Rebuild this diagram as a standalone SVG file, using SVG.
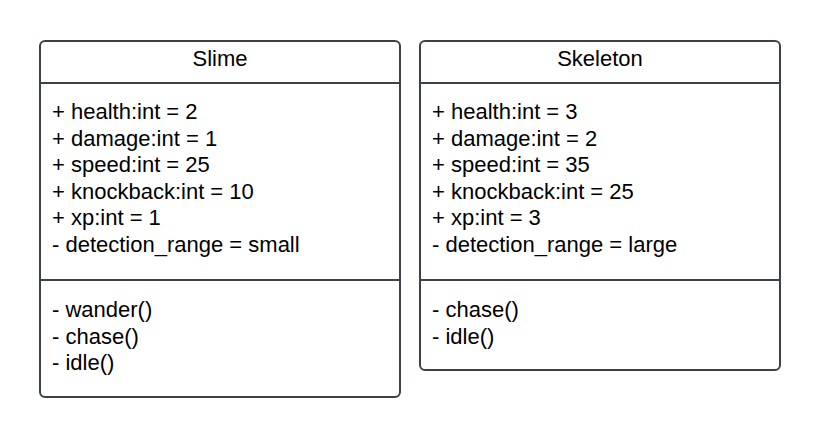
<svg xmlns="http://www.w3.org/2000/svg" width="820" height="438" viewBox="0 0 820 438">
<style>
.box{fill:#fff;stroke:#3a414a;stroke-width:2}
.ln{stroke:#3a414a;stroke-width:2}
text{font-family:"Liberation Sans",Arial,sans-serif;font-size:22px;fill:#000}
.t{text-anchor:middle}
</style>
<rect width="820" height="438" fill="#fff"/>
<g id="slime">
<rect class="box" x="40" y="41" width="360" height="356" rx="5"/>
<line class="ln" x1="40" y1="83" x2="400" y2="83"/>
<line class="ln" x1="40" y1="280" x2="400" y2="280"/>
<text class="t" x="220" y="66">Slime</text>
<text x="52" y="119">+ health:int = 2</text>
<text x="52" y="145.5">+ damage:int = 1</text>
<text x="52" y="172">+ speed:int = 25</text>
<text x="52" y="198.5">+ knockback:int = 10</text>
<text x="52" y="225">+ xp:int = 1</text>
<text x="52" y="251.5">- detection_range = small</text>
<text x="52" y="317">- wander()</text>
<text x="52" y="343.5">- chase()</text>
<text x="52" y="370">- idle()</text>
</g>
<g id="skeleton">
<rect class="box" x="420" y="41" width="360" height="329" rx="5"/>
<line class="ln" x1="420" y1="83" x2="780" y2="83"/>
<line class="ln" x1="420" y1="280" x2="780" y2="280"/>
<text class="t" x="600" y="66">Skeleton</text>
<text x="432" y="119">+ health:int = 3</text>
<text x="432" y="145.5">+ damage:int = 2</text>
<text x="432" y="172">+ speed:int = 35</text>
<text x="432" y="198.5">+ knockback:int = 25</text>
<text x="432" y="225">+ xp:int = 3</text>
<text x="432" y="251.5">- detection_range = large</text>
<text x="432" y="317">- chase()</text>
<text x="432" y="343.5">- idle()</text>
</g>
<g id="connectors"/>
</svg>
